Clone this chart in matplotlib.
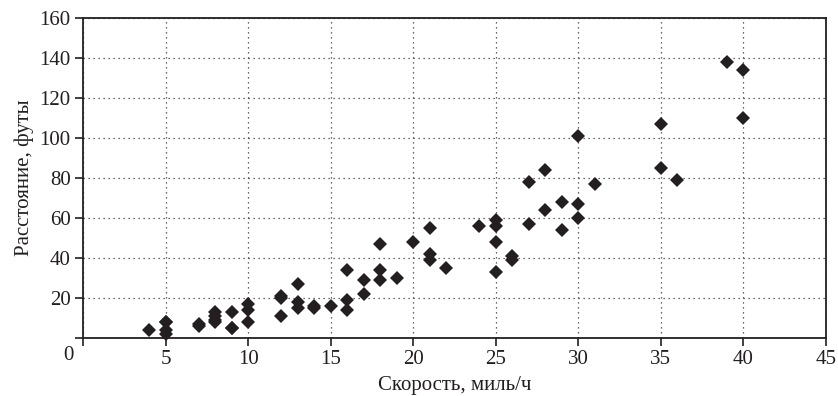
import matplotlib
matplotlib.use("Agg")
import matplotlib.pyplot as plt

plt.rcParams['font.family'] = ['Liberation Serif', 'DejaVu Serif']

speed = [4, 5, 5, 5, 5, 7, 7, 8, 8, 8, 8, 9, 9, 9, 10, 10, 10,
         12, 12, 12, 13, 13, 13, 14, 14, 15, 16, 16, 16, 17, 17,
         18, 18, 18, 19, 20, 21, 21, 21, 22, 24, 25, 25, 25, 25,
         26, 26, 27, 27, 28, 28, 29, 29, 30, 30, 30, 31, 35, 35,
         36, 39, 40, 40]
distance = [4, 2, 4, 8, 8, 7, 6, 8, 9, 11, 13, 5, 5, 13, 8, 14, 17,
            11, 20, 21, 15, 18, 27, 15, 16, 16, 14, 19, 34, 22, 29,
            29, 34, 47, 30, 48, 39, 42, 55, 35, 56, 33, 48, 56, 59,
            39, 41, 57, 78, 64, 84, 54, 68, 60, 67, 101, 77, 85, 107,
            79, 138, 110, 134]

x_ticks = [0, 5, 10, 15, 20, 25, 30, 35, 40, 45]
x_labels = ['', '5', '10', '15', '20', '25', '30', '35', '40', '45']
y_ticks = [0, 20, 40, 60, 80, 100, 120, 140, 160]
y_labels = ['', '20', '40', '60', '80', '100', '120', '140', '160']

fig = plt.figure(figsize=(8.38, 3.96), dpi=100)
ax = fig.add_axes([83/838, 58/396, 743/838, 320/396])

ax.plot(speed, distance, linestyle='none', marker='D', markersize=6.8,
        color='#231f20', markeredgewidth=0, zorder=3, clip_on=False)

ax.set_xlim(0, 45)
ax.set_ylim(0, 160)
ax.set_xticks(x_ticks)
ax.set_xticklabels(x_labels)
ax.set_yticks(y_ticks)
ax.set_yticklabels(y_labels)

ax.grid(True, linestyle=(0, (1, 3)), color='#3a3a3a', linewidth=0.9)
ax.set_axisbelow(True)
for s in ax.spines.values():
    s.set_linewidth(1.3)
    s.set_color('#231f20')

ax.tick_params(axis='both', direction='out', length=6, width=1.2,
               color='#231f20', labelsize=15, labelcolor='#231f20', pad=3)

ax.annotate('0', xy=(0, 0), xycoords='data', xytext=(-15, -8),
            textcoords='offset pixels', ha='center', va='top',
            fontsize=15, color='#231f20')

ax.set_xlabel('Скорость, миль/ч', fontsize=15, color='#231f20', labelpad=5)
ax.set_ylabel('Расстояние, футы', fontsize=15, color='#231f20', labelpad=3.5)

fig.savefig('out.png', dpi=100)
